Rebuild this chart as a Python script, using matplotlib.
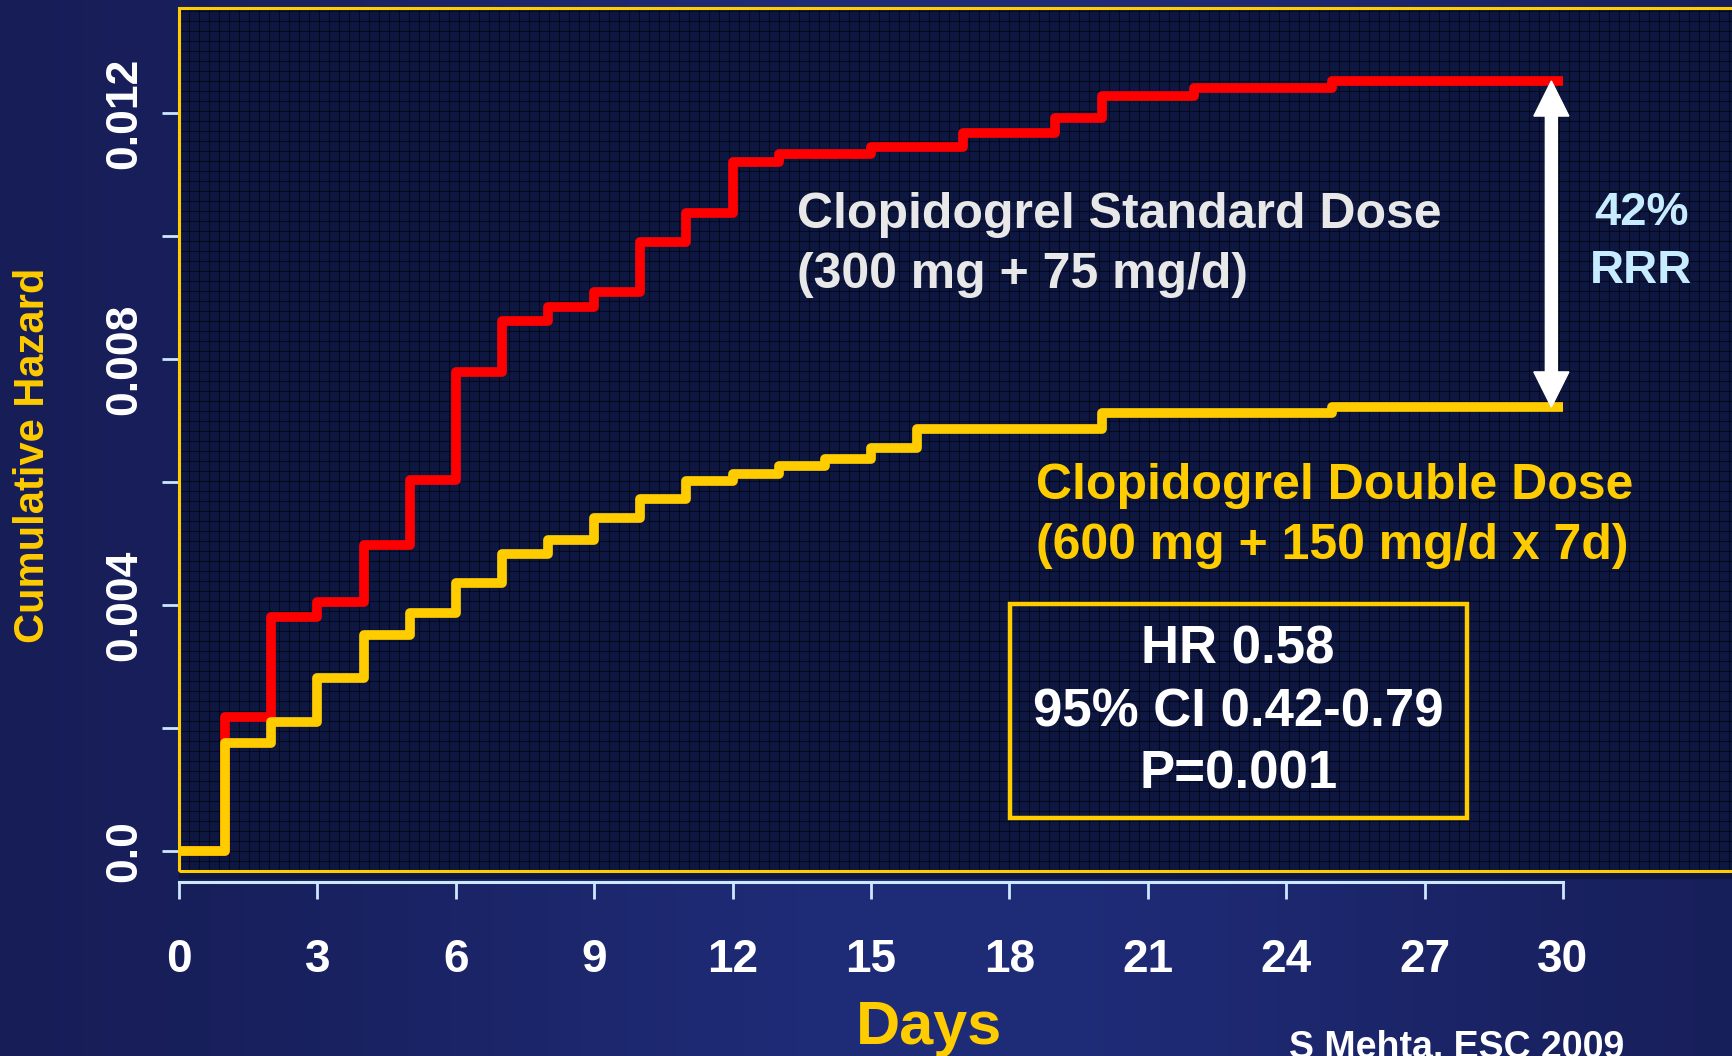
import numpy as np
import matplotlib.pyplot as plt
from matplotlib.collections import LineCollection
from matplotlib.patches import Rectangle

# data (step changes at whole days)
std_days = [0, 1, 2, 3, 4, 5, 6, 7, 8, 9, 10, 11, 12, 13, 15, 17, 19, 20, 22, 25, 30]
std_haz = [0.0, 0.00218, 0.00381, 0.00405, 0.00497, 0.00604, 0.00779, 0.00862, 0.00885,
           0.00909, 0.00990, 0.01037, 0.01120, 0.01133, 0.01145, 0.01167, 0.01192,
           0.01228, 0.01240, 0.01252, 0.01252]

dbl_days = [0, 1, 2, 3, 4, 5, 6, 7, 8, 9, 10, 11, 12, 13, 14, 15, 16, 20, 25, 30]
dbl_haz = [0.0, 0.00176, 0.00210, 0.00281, 0.00351, 0.00387, 0.00436, 0.00483, 0.00506,
           0.00541, 0.00572, 0.00602, 0.00613, 0.00626, 0.00638, 0.00655, 0.00686,
           0.00712, 0.00722, 0.00722]

x_ticks = [0, 3, 6, 9, 12, 15, 18, 21, 24, 27, 30]
y_ticks = [0.0, 0.002, 0.004, 0.006, 0.008, 0.010, 0.012]
y_tick_labels = ['0.0', '', '0.004', '', '0.008', '', '0.012']

GOLD = '#ffcc00'
RED = '#ff0000'
TICK = '#cce8ff'
BOLD = ['Liberation Sans', 'DejaVu Sans']

W, H = 1732, 1056
fig = plt.figure(figsize=(W / 100, H / 100), dpi=100)

# slide background: horizontal blue gradient
bg = fig.add_axes([0, 0, 1, 1], zorder=-10)
t = np.linspace(0, 1, 400)
c_edge = np.array([0x16, 0x1c, 0x54]) / 255
c_mid = np.array([0x1f, 0x2c, 0x78]) / 255
w = np.exp(-((t - 0.55) / 0.35) ** 2)
grad = c_edge[None, :] * (1 - w[:, None]) + c_mid[None, :] * w[:, None]
bg.imshow(grad[None, :, :], aspect='auto', extent=[0, 1, 0, 1])
bg.axis('off')

# plot panel
left, bottom, top = 179 / W, 1 - 871 / H, 1 - 8 / H
xmax = 34.0
px_per_day = 46.13
width = xmax * px_per_day / W
ax = fig.add_axes([left, bottom, width, top - bottom])
ax.set_facecolor('#0e1742')
ax.set_xlim(0, xmax)
ax.set_ylim(-0.000325, 0.013707)

# dark panel strip below the gold frame
fig.patches.append(Rectangle((left, 1 - 878 / H), 1 - left, 7 / H,
                             transform=fig.transFigure, color='#0e1742', zorder=-5))

# fine texture grid
pw, ph = width * W, (top - bottom) * H
vx = np.arange(0, pw, 10) / pw
hy = np.arange(0, ph, 10) / ph
segs = [[(v, 0), (v, 1)] for v in vx] + [[(0, h), (1, h)] for h in hy]
ax.add_collection(LineCollection(segs, colors='black', linewidths=0.8, alpha=0.55,
                                 transform=ax.transAxes, zorder=0))

# gold frame
ax.add_patch(Rectangle((0, 0), 1.2, 1, transform=ax.transAxes, fill=False,
                       edgecolor=GOLD, lw=2.2, zorder=5, clip_on=False))

ax.step(std_days, std_haz, where='post', color=RED, lw=7, zorder=3,
        solid_joinstyle='round', solid_capstyle='butt')
ax.step(dbl_days, dbl_haz, where='post', color=GOLD, lw=7, zorder=4,
        solid_joinstyle='round', solid_capstyle='butt')

# spines / ticks
for s in ['top', 'right', 'left']:
    ax.spines[s].set_visible(False)
ax.spines['bottom'].set_position(('outward', 8))
ax.spines['bottom'].set_bounds(0, 30)
ax.spines['bottom'].set_color(TICK)
ax.spines['bottom'].set_linewidth(2.2)

ax.set_xticks(x_ticks)
ax.set_xticklabels([str(v) for v in x_ticks])
ax.set_yticks(y_ticks)
ax.set_yticklabels(y_tick_labels)
ax.tick_params(axis='x', length=12, width=2.0, color=TICK, pad=28,
               labelcolor='white', labelsize=33)
ax.tick_params(axis='y', length=12, width=2.0, color=TICK, pad=12,
               labelcolor='white', labelsize=32)
for lab in ax.get_xticklabels() + ax.get_yticklabels():
    lab.set_family(BOLD)
    lab.set_fontweight('bold')
for lab in ax.get_yticklabels():
    lab.set_rotation(90)
    lab.set_va('center')

# arrow between the two curves at day 30
xa = 29.75
mid = (std_haz[-1] + dbl_haz[-1]) / 2
for end in (std_haz[-1], dbl_haz[-1]):
    ax.arrow(xa, mid, 0, end - mid, width=0.26, head_width=0.76, head_length=0.00057,
             length_includes_head=True, color='white', zorder=6)

ax.text(13.4, 0.00985, 'Clopidogrel Standard Dose\n(300 mg + 75 mg/d)', color='#e8e8e8',
        fontsize=36, fontweight='bold', family=BOLD, ha='left', va='center',
        linespacing=1.38, zorder=7)
ax.text(18.58, 0.00545, 'Clopidogrel Double Dose\n(600 mg + 150 mg/d x 7d)', color=GOLD,
        fontsize=36, fontweight='bold', family=BOLD, ha='left', va='center',
        linespacing=1.38, zorder=7)
ax.text(31.7, 0.00990, '42%\nRRR', color='#c8ecff', fontsize=34, fontweight='bold',
        family=BOLD, ha='center', va='center', multialignment='center',
        linespacing=1.42, zorder=7)

ax.add_patch(Rectangle((18.01, 0.000537), 27.92 - 18.01, 0.00402 - 0.000537,
                       fill=False, edgecolor=GOLD, lw=3.2, zorder=7))
ax.text(22.96, 0.00226, 'HR 0.58\n95% CI 0.42-0.79\nP=0.001', color='white', fontsize=38,
        fontweight='bold', family=BOLD, ha='center', va='center',
        multialignment='center', linespacing=1.33, zorder=7)

fig.text(33 / W, 1 - 455 / H, 'Cumulative Hazard', color=GOLD, fontsize=30,
         fontweight='bold', family=BOLD, rotation=90, ha='center', va='center')
fig.text(929 / W, 1 - 1044 / H, 'Days', color=GOLD, fontsize=44, fontweight='bold',
         family=BOLD, ha='center', va='baseline')
fig.text(1289 / W, 1 - 1058 / H, 'S Mehta, ESC 2009', color='white', fontsize=27,
         fontweight='bold', family=BOLD, ha='left', va='baseline')

fig.savefig('out.png', dpi=100)
